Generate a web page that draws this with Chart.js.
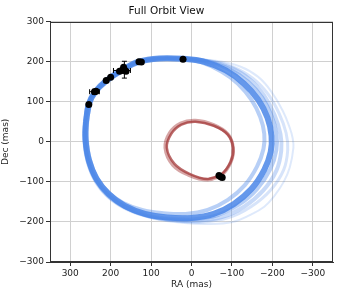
<!DOCTYPE html>
<html>
<head>
<meta charset="utf-8">
<script src="https://cdn.jsdelivr.net/npm/chart.js@4"></script>
<style>
  html, body { margin: 0; padding: 0; background: #fff; }
</style>
</head>
<body>
<canvas id="orbit" width="340" height="295"></canvas>
<script>
// axis ticks
const raTicks = [300, 200, 100, 0, -100, -200, -300]
const decTicks = [300, 200, 100, 0, -100, -200, -300]

// companion orbit samples (RA, Dec in mas)
const mainRA  = [254, 261, 262, 254, 235, 205, 165, 115, 60, 0, -55, -105, -148, -180, -196, -198, -188, -165, -130, -85, -30, 21, 80, 130, 170, 211, 238, 254, 261]
const mainDec = [94, 50, 5, -45, -92, -130, -160, -180, -189, -190, -180, -155, -118, -70, -25, 15, 60, 105, 145, 178, 200, 207, 208, 200, 180, 152, 125, 94, 50]

const innerRA  = [252, 258, 259, 252, 235, 207, 170, 122, 70, 15, -40, -90, -132, -162, -178, -180, -170, -148, -115, -75, -25, 21, 80, 130, 170, 211, 238, 252, 258]
const innerDec = [94, 50, 5, -42, -88, -125, -152, -170, -178, -180, -170, -145, -108, -62, -18, 20, 62, 105, 145, 175, 198, 207, 208, 200, 180, 152, 125, 94, 50]

const nextRA  = [255, 262, 263, 255, 236, 205, 163, 110, 52, -8, -65, -117, -162, -195, -210, -210, -198, -175, -140, -92, -35, 21, 80, 130, 170, 211, 238, 255, 262]
const nextDec = [94, 50, 5, -47, -95, -133, -163, -183, -192, -193, -183, -157, -118, -68, -20, 20, 65, 110, 150, 182, 201, 207, 208, 200, 180, 152, 125, 94, 50]

const midRA  = [256, 263, 264, 256, 236, 204, 160, 105, 45, -15, -75, -130, -177, -210, -222, -220, -205, -180, -145, -97, -38, 21, 80, 130, 170, 211, 238, 256, 263]
const midDec = [94, 50, 5, -50, -98, -137, -166, -186, -195, -197, -188, -162, -122, -72, -22, 20, 68, 115, 155, 185, 202, 207, 208, 200, 180, 152, 125, 94, 50]

const wideRA  = [257, 264, 266, 257, 236, 202, 155, 98, 36, -27, -90, -147, -196, -228, -238, -234, -217, -190, -152, -102, -40, 21, 80, 130, 170, 211, 238, 257, 264]
const wideDec = [94, 50, 5, -52, -101, -140, -170, -189, -198, -200, -190, -162, -120, -70, -20, 22, 70, 118, 158, 187, 203, 207, 208, 200, 180, 152, 125, 94, 50]

const outerRA  = [258, 265, 268, 258, 236, 200, 150, 90, 25, -40, -102, -144, -180, -205, -228, -243, -252, -250, -243, -226, -197, -165, -120, -60, 21, 80, 130, 170, 211, 238, 258, 265]
const outerDec = [94, 50, 5, -55, -105, -145, -175, -193, -202, -205, -200, -183, -162, -135, -100, -64, -15, 10, 35, 77, 126, 162, 188, 202, 207, 208, 200, 180, 152, 125, 94, 50]

// inner orbit
const redRA  = [-73, -40, 5, 42, 61, 50, 25, -10, -55, -90, -103, -97, -73, -40]
const redDec = [-82, -93, -80, -55, -15, 20, 43, 50, 40, 18, -15, -50, -82, -93]
const red2RA  = [-73, -40, 7, 46, 65, 54, 27, -10, -55, -90, -103, -97, -73, -40]
const red2Dec = [-84, -95, -83, -58, -15, 22, 46, 53, 42, 19, -15, -51, -84, -95]

// astrometry
const obsRA     = [254, 240, 236, 211, 200, 178, 172, 166, 162, 168, 130, 124, 21, -68, -72, -76]
const obsDec    = [93, 125, 126, 153, 161, 176, 178, 180, 176, 186, 200, 199, 206, -84, -87, -89]
const obsRAErr  = [3, 12, 3, 3, 3, 4, 21, 5, 4, 4, 3, 3, 3, 2, 2, 2]
const obsDecErr = [3, 6, 3, 3, 3, 4, 5, 21, 4, 4, 3, 3, 3, 2, 2, 2]

const pts = (xs, ys) => xs.map((x, i) => ({ x: x, y: ys[i] }))
const minus = v => String(v).replace('-', '\u2212')
const BLUE = 'rgba(74,134,232,'
const font = 'DejaVu Sans'

function orbit(xs, ys, color, width) {
  return {
    data: pts(xs, ys),
    showLine: true,
    borderColor: color,
    borderWidth: width,
    pointRadius: 0,
    tension: 0.4,
    fill: false
  }
}

// error bars drawn through the scales
const errorBars = {
  id: 'errorBars',
  afterDatasetsDraw(chart) {
    const xs = chart.scales.x, ys = chart.scales.y, ctx = chart.ctx
    ctx.save()
    ctx.strokeStyle = '#000'
    ctx.lineWidth = 1
    const cap = 2.5
    for (let i = 0; i < obsRA.length; i++) {
      const px = xs.getPixelForValue(obsRA[i]), py = ys.getPixelForValue(obsDec[i])
      const x1 = xs.getPixelForValue(obsRA[i] - obsRAErr[i]), x2 = xs.getPixelForValue(obsRA[i] + obsRAErr[i])
      const y1 = ys.getPixelForValue(obsDec[i] - obsDecErr[i]), y2 = ys.getPixelForValue(obsDec[i] + obsDecErr[i])
      ctx.beginPath()
      ctx.moveTo(x1, py); ctx.lineTo(x2, py)
      ctx.moveTo(px, y1); ctx.lineTo(px, y2)
      if (obsRAErr[i] > 6) {
        ctx.moveTo(x1, py - cap); ctx.lineTo(x1, py + cap)
        ctx.moveTo(x2, py - cap); ctx.lineTo(x2, py + cap)
      }
      if (obsDecErr[i] > 5) {
        ctx.moveTo(px - cap, y1); ctx.lineTo(px + cap, y1)
        ctx.moveTo(px - cap, y2); ctx.lineTo(px + cap, y2)
      }
      ctx.stroke()
    }
    // frame on all four sides
    const a = chart.chartArea
    ctx.strokeStyle = '#333'
    ctx.strokeRect(Math.round(a.left) + 0.5, Math.round(a.top) + 0.5, Math.round(a.right - a.left) - 1, Math.round(a.bottom - a.top) - 1)
    ctx.restore()
  }
}

const scaleBase = (ticks, title) => ({
  type: 'linear',
  afterBuildTicks: s => { s.ticks = ticks.map(v => ({ value: v })) },
  ticks: { callback: v => minus(v), font: { family: font, size: 9 }, color: '#222', padding: 2 },
  grid: { color: '#d0d0d0', tickColor: '#333', tickLength: 4 },
  border: { display: true, color: '#333' },
  title: { display: true, text: title, font: { family: font, size: 9 }, color: '#222' }
})

const xScale = scaleBase(raTicks, 'RA (mas)')
xScale.reverse = true
xScale.min = -350
xScale.max = 350
xScale.title.padding = { top: 0, bottom: 5 }
xScale.afterFit = s => { s.height = 33 }

const yScale = scaleBase(decTicks, 'Dec (mas)')
yScale.min = -300
yScale.max = 300
yScale.title.padding = { top: 0, bottom: 6 }
yScale.afterFit = s => { s.width = 50 }

new Chart(document.querySelector('#orbit'), {
  type: 'scatter',
  data: {
    datasets: [
      { data: pts(obsRA, obsDec), pointRadius: 3.5, pointBackgroundColor: '#000', pointBorderWidth: 0, showLine: false },
      orbit(red2RA, red2Dec, 'rgba(165,55,55,0.45)', 3.5),
      orbit(redRA, redDec, 'rgba(170,70,70,0.8)', 2.5),
      orbit(mainRA, mainDec, BLUE + '0.85)', 6),
      orbit(innerRA, innerDec, BLUE + '0.4)', 4),
      orbit(nextRA, nextDec, BLUE + '0.4)', 4),
      orbit(midRA, midDec, BLUE + '0.3)', 4),
      orbit(wideRA, wideDec, BLUE + '0.22)', 3),
      orbit(outerRA, outerDec, BLUE + '0.18)', 2)
    ]
  },
  options: {
    responsive: false,
    animation: false,
    layout: { padding: { right: 7 } },
    plugins: {
      legend: { display: false },
      tooltip: { enabled: false },
      title: { display: true, text: 'Full Orbit View', color: '#111', font: { family: font, size: 10.5, weight: 'normal' }, padding: { top: 5, bottom: 4 } }
    },
    scales: { x: xScale, y: yScale }
  },
  plugins: [errorBars]
})
</script>
</body>
</html>
